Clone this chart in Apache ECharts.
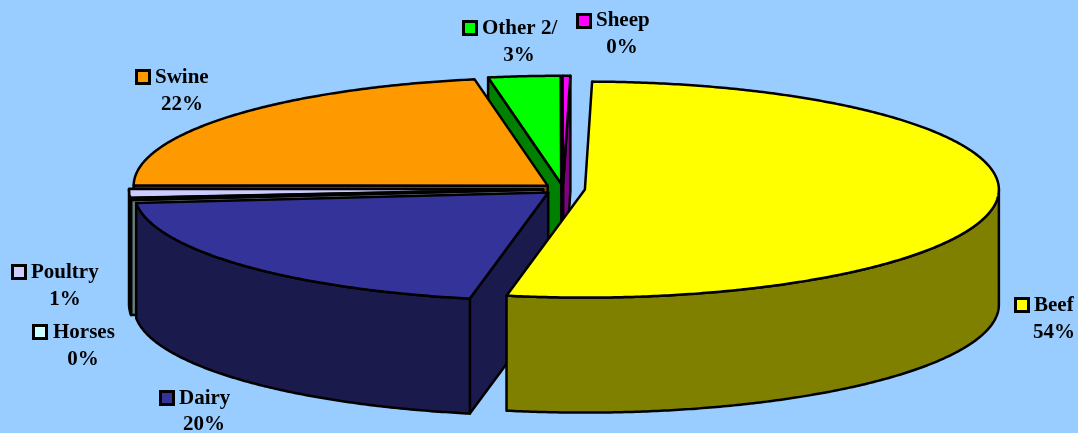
<!DOCTYPE html>
<html>
<head>
<meta charset="utf-8">
<style>
  html, body { margin: 0; padding: 0; background: #99ccff; }
  #chart { width: 1078px; height: 433px; }
</style>
<script src="https://cdn.jsdelivr.net/npm/echarts@6/dist/echarts.min.js"></script>
</head>
<body>
<div id="chart"></div>
<script>
// slices go clockwise starting from the beef one
const categories = ['Beef', 'Dairy', 'Horses', 'Poultry', 'Swine', 'Other 2/', 'Sheep'];
const shares = [52.7, 20.4, 0.3, 1.3, 22.1, 2.8, 0.3];
const shareLabels = ['54%', '20%', '0%', '1%', '22%', '3%', '0%'];
const topColors = ['#ffff00', '#333399', '#ccffff', '#ccccff', '#ff9900', '#00ff00', '#ff00ff'];
const wallColors = ['#808000', '#1a1a4d', '#668080', '#666680', '#804c00', '#008000', '#800080'];
const sliceExplode = [22, 20, 20, 20, 20, 20, 20];
// back slices first, the front ones cover them
const paintOrder = [5, 6, 4, 3, 2, 1, 0];

// pie geometry
const cx = 563, cy = 189, rx = 414, ry = 108, depth = 115;
const startAngle = 271;

// key x, key y, name x, name y, percent centre x, percent y
const labelLayout = [
  [1015.5, 298.5, 1034, 306, 1054, 333],
  [160.5, 391.5, 179, 399, 204, 425],
  [33.5, 325.5, 53, 333, 83, 360],
  [12.5, 265.5, 31, 273, 65, 300],
  [136.5, 70.5, 155, 78, 182, 105],
  [463.5, 21.5, 482, 29, 519, 56],
  [577.5, 14.5, 596, 21, 622, 48]
];

const total = shares.reduce((a, b) => a + b, 0);
const toAngle = v => echarts.number.linearMap(v, [0, total], [0, 360]);
const rad = d => d * Math.PI / 180;

// start and end angle of every slice, from the shares
let running = 0;
const sweeps = shares.map(v => {
  const a = startAngle + toAngle(running);
  running += v;
  return [a, startAngle + toAngle(running)];
});

function rim(c, t, down) {
  return [c[0] + rx * Math.cos(rad(t)), c[1] + ry * Math.sin(rad(t)) + (down || 0)];
}

function arc(c, a, b, down) {
  const pts = [];
  const n = Math.max(2, Math.ceil((b - a) * 2));
  for (let i = 0; i <= n; i++) {
    pts.push(rim(c, a + (b - a) * i / n, down));
  }
  return pts;
}

function face(points, fill) {
  return {
    type: 'polygon',
    shape: { points: points },
    style: { fill: fill, stroke: '#000', lineWidth: 2.5, lineJoin: 'round' }
  };
}

function renderSlice(params, api) {
  const idx = api.value(0);
  const a = sweeps[idx][0], b = sweeps[idx][1];
  const mid = rad((a + b) / 2);
  const c = [
    cx + sliceExplode[idx] * Math.cos(mid),
    cy + sliceExplode[idx] * ry / rx * Math.sin(mid)
  ];
  const wall = wallColors[idx];
  const children = [];

  // cut faces, only when they turn towards the viewer
  [[a, a - 90], [b, b + 90]].forEach(function (cut) {
    if (Math.sin(rad(cut[1])) > 0) {
      const p = rim(c, cut[0]);
      const q = rim(c, cut[0], depth);
      children.push(face([c, p, q, [c[0], c[1] + depth]], wall));
    }
  });

  // outer wall, front half of the ellipse only
  [[0, 180], [360, 540]].forEach(function (range) {
    const from = Math.max(a, range[0]);
    const to = Math.min(b, range[1]);
    if (to > from) {
      children.push(face(arc(c, from, to).concat(arc(c, from, to, depth).reverse()), wall));
    }
  });

  children.push(face([c].concat(arc(c, a, b)), topColors[idx]));
  return { type: 'group', children: children };
}

const labelGraphics = [];
categories.forEach(function (name, i) {
  const l = labelLayout[i];
  const font = 'bold 21px "Liberation Serif", "Times New Roman", serif';
  labelGraphics.push({
    type: 'rect',
    shape: { x: l[0], y: l[1], width: 13, height: 13 },
    style: { fill: topColors[i], stroke: '#000', lineWidth: 3 }
  });
  labelGraphics.push({
    type: 'text',
    x: l[2], y: l[3],
    style: { text: name, font: font, fill: '#000', textAlign: 'left', textVerticalAlign: 'middle' }
  });
  labelGraphics.push({
    type: 'text',
    x: l[4], y: l[5],
    style: { text: shareLabels[i], font: font, fill: '#000', textAlign: 'center', textVerticalAlign: 'middle' }
  });
});

const myChart = echarts.init(document.getElementById('chart'));
myChart.setOption({
  backgroundColor: '#99ccff',
  animation: false,
  graphic: labelGraphics,
  series: [{
    type: 'custom',
    coordinateSystem: 'none',
    renderItem: renderSlice,
    silent: true,
    data: paintOrder.map(i => [i, shares[i]])
  }]
});
</script>
</body>
</html>
